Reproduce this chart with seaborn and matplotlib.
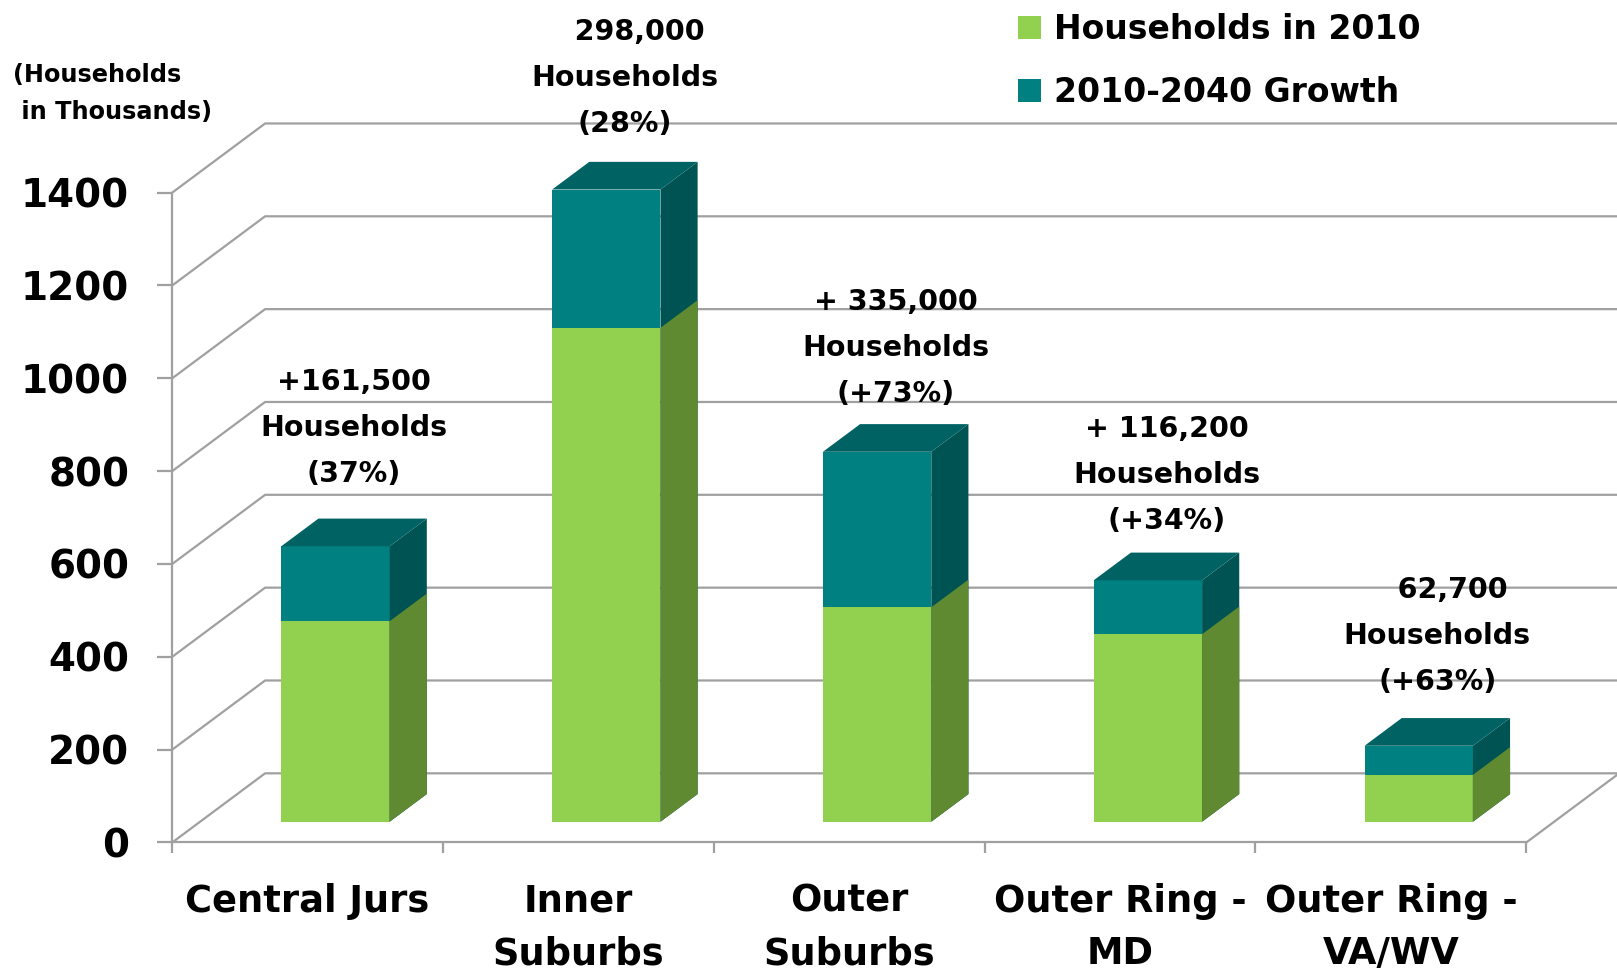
import matplotlib
matplotlib.use("Agg")
import matplotlib.pyplot as plt
import seaborn as sns
import pandas as pd
from matplotlib.patches import Polygon, Patch

# Data (households in thousands)
categories = ["Central Jurs", "Inner\nSuburbs", "Outer\nSuburbs", "Outer Ring -\nMD", "Outer Ring -\nVA/WV"]
hh_2010 = [432, 1064, 462, 404, 101]
growth = [161.5, 298, 335, 116.2, 62.7]
labels = ["+161,500\nHouseholds\n(37%)",
          "   298,000\nHouseholds\n(28%)",
          "+ 335,000\nHouseholds\n(+73%)",
          "+ 116,200\nHouseholds\n(+34%)",
          "   62,700\nHouseholds\n(+63%)"]
label_gap = [300, 284, 269, 271, 282]   # label centre above bar top (thousands)
yticks = [0, 200, 400, 600, 800, 1000, 1200, 1400]

totals = [a + b for a, b in zip(hh_2010, growth)]
df = pd.DataFrame({"Region": categories, "2010": hh_2010, "Total": totals})

GREEN, GREEN_SIDE = "#92D050", "#5F8A31"
TEAL, TEAL_TOP, TEAL_SIDE = "#008080", "#006262", "#005353"
GRID = "#a0a0a0"

# depth of the fake 3d box (data units)
DX, DY = 0.343, 149
F0, F1 = 0.3, 0.7   # bar front / back position in depth

sns.set_style("white")
plt.rcParams["font.family"] = ["DejaVu Sans"]
plt.rcParams["font.weight"] = "bold"
plt.rcParams["text.color"] = "black"
plt.rcParams["xtick.labelcolor"] = "black"
plt.rcParams["ytick.labelcolor"] = "black"

fig = plt.figure(figsize=(16.17, 9.76), dpi=100)
ax = fig.add_axes([0.1065, 0.1368, 0.8374, 0.8632])

# front faces of the bars
sns.barplot(data=df, x="Region", y="Total", color=TEAL, saturation=1, width=0.4, ax=ax, zorder=3)
sns.barplot(data=df, x="Region", y="2010", color=GREEN, saturation=1, width=0.4, ax=ax, zorder=3)

ax.set_xlim(-0.5, 4.5)
ax.set_ylim(0, 1815)

# push the bars back into the box and add sides / tops
n = len(categories)
for k, p in enumerate(ax.patches):
    p.set_x(p.get_x() + F0 * DX)
    p.set_y(p.get_y() + F0 * DY)
    p.set_linewidth(0)
    x1 = p.get_x() + p.get_width()
    y0 = p.get_y()
    y1 = y0 + p.get_height()
    ddx, ddy = (F1 - F0) * DX, (F1 - F0) * DY
    is_teal = k < n
    side = Polygon([(x1, y0), (x1 + ddx, y0 + ddy), (x1 + ddx, y1 + ddy), (x1, y1)],
                   closed=True, color=TEAL_SIDE if is_teal else GREEN_SIDE, lw=0, zorder=3)
    ax.add_patch(side)
    if is_teal:
        x0 = p.get_x()
        top = Polygon([(x0, y1), (x1, y1), (x1 + ddx, y1 + ddy), (x0 + ddx, y1 + ddy)],
                      closed=True, color=TEAL_TOP, lw=0, zorder=3)
        ax.add_patch(top)

# back wall grid, left wall diagonals and floor
for v in yticks:
    ax.plot([-0.5, -0.5 + DX, 4.5 + DX], [v, v + DY, v + DY], color=GRID, lw=1.6,
            clip_on=False, zorder=1)
ax.plot([4.5, 4.5 + DX], [0, DY], color=GRID, lw=1.6, clip_on=False, zorder=1)

# axes frame and ticks
for s in ["top", "right"]:
    ax.spines[s].set_visible(False)
for s in ["left", "bottom"]:
    ax.spines[s].set_color(GRID)
    ax.spines[s].set_linewidth(1.6)
ax.spines["left"].set_bounds(0, 1400)

ax.set_yticks(yticks)
ax.set_yticklabels([str(v) for v in yticks])
ax.tick_params(axis="y", direction="out", length=11, width=1.6, color=GRID,
               labelsize=28, pad=20, left=True)
ax.set_xticks([i - 0.5 for i in range(n + 1)])
ax.set_xticklabels([""] * (n + 1))
ax.tick_params(axis="x", which="major", direction="out", length=8, width=1.6,
               color=GRID, bottom=True)
ax.set_xticks(range(n), minor=True)
ax.set_xticklabels(categories, minor=True)
ax.tick_params(axis="x", which="minor", length=0, labelsize=26.5, pad=29)
for t in ax.get_xticklabels(minor=True):
    t.set_fontweight("bold")
    t.set_linespacing(1.54)
for t in ax.get_yticklabels():
    t.set_fontweight("bold")
ax.set_xlabel("")
ax.set_ylabel("")

# value labels above the bars
for i, (tot, gap, lab) in enumerate(zip(totals, label_gap, labels)):
    ax.text(i + 0.5 * DX, tot + gap, lab, ha="center", va="center", fontsize=20.5,
            fontweight="bold", linespacing=1.82, zorder=5)

fig.text(13 / 1617, 1 - 63 / 976, "(Households\n in Thousands)", ha="left", va="top",
         fontsize=17.3, fontweight="bold", linespacing=1.7)

handles = [Patch(color=GREEN, lw=0), Patch(color=TEAL, lw=0)]
fig.legend(handles, ["Households in 2010", "2010-2040 Growth"], loc="upper left",
           bbox_to_anchor=(1018 / 1617, 1 - 13 / 976), frameon=False,
           prop={"size": 23.8, "weight": "bold"}, handlelength=0.7, handleheight=0.7,
           handletextpad=0.4, labelspacing=0.92, borderpad=0, borderaxespad=0)

fig.savefig("out.png", dpi=100, facecolor="white")
